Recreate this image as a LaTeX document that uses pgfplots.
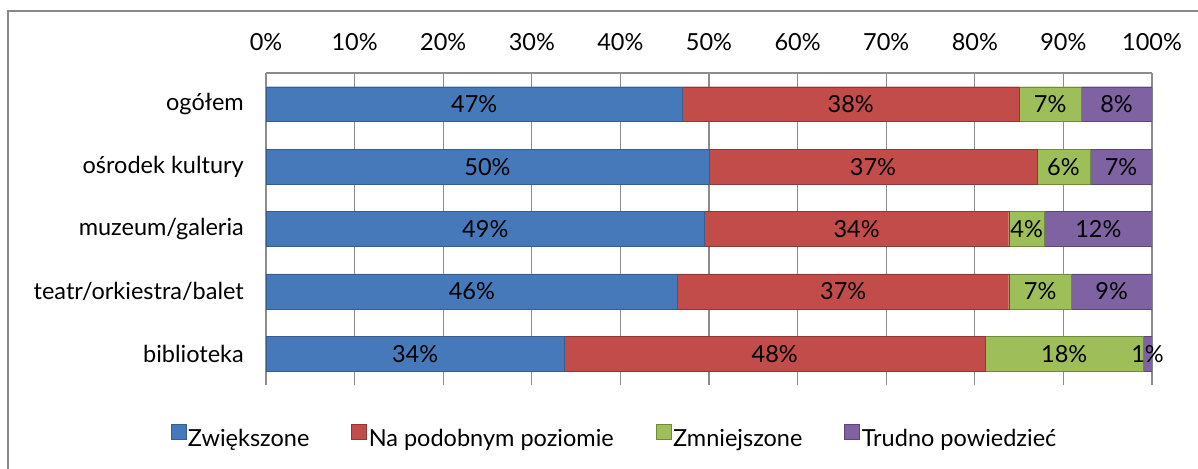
\documentclass[border=0pt]{standalone}
\usepackage{pgfplots}
\pgfplotsset{compat=1.18}
\usepackage{fontspec}
\setmainfont{Lato}
\definecolor{frameGray}{HTML}{888888}
\definecolor{gridGray}{HTML}{8C8C8C}
\definecolor{bFill}{HTML}{4579BA}
\definecolor{bEdge}{HTML}{385D8A}
\definecolor{rFill}{HTML}{C24C49}
\definecolor{rEdge}{HTML}{8C3836}
\definecolor{gFill}{HTML}{9DBE58}
\definecolor{gEdge}{HTML}{71893F}
\definecolor{pFill}{HTML}{7F62A2}
\definecolor{pEdge}{HTML}{5C4776}
\newcommand{\cf}{\fontsize{23.5bp}{28bp}\selectfont}
\begin{document}
\begin{tikzpicture}
\useasboundingbox (0,0) rectangle (1198bp,469bp);
\draw[frameGray, line width=1.5bp] (8bp,0) -- (8bp,458bp) -- (1198bp,458bp);
\begin{axis}[
  scale only axis, width=886bp, height=312bp,
  at={(266bp,84bp)}, anchor=south west,
  xbar stacked, bar width=0.56,
  xmin=0, xmax=100, ymin=-0.5, ymax=4.5,
  axis x line*=top, axis y line*=left,
  axis line style={gridGray, line width=1.2bp, -},
  xmajorgrids, grid style={gridGray, line width=1.2bp},
  xtick={0,10,...,100},
  xticklabels={0\%,10\%,20\%,30\%,40\%,50\%,60\%,70\%,80\%,90\%,100\%},
  ytick={0,1,2,3,4},
  yticklabels={biblioteka, teatr/orkiestra/balet, muzeum/galeria, ośrodek kultury, ogółem},
  major tick length=0pt,
  tick style={draw=none},
  xticklabel style={font=\cf, anchor=base, yshift=23bp, inner sep=0pt},
  yticklabel style={font=\cf, anchor=east, xshift=-22bp, inner sep=0pt},
  legend columns=4,
  legend style={draw=none, fill=none, font=\cf,
    at={(axis description cs:0.3933,-0.1667)}, anchor=center,
    nodes={inner sep=2bp},
    /tikz/every even column/.append style={column sep=40bp}},
]
\addplot[draw=bEdge, fill=bFill,
  legend image code/.code={\draw[draw=bEdge, fill=bFill] (0bp,-1bp) rectangle (15bp,14bp);}]
  coordinates {(47,4) (50,3) (49.49,2) (46.46,1) (33.66,0)};
\addlegendentry{Zwiększone}
\addplot[draw=rEdge, fill=rFill,
  legend image code/.code={\draw[draw=rEdge, fill=rFill] (0bp,-1bp) rectangle (15bp,14bp);}]
  coordinates {(38,4) (37,3) (34.34,2) (37.37,1) (47.52,0)};
\addlegendentry{Na podobnym poziomie}
\addplot[draw=gEdge, fill=gFill,
  legend image code/.code={\draw[draw=gEdge, fill=gFill] (0bp,-1bp) rectangle (15bp,14bp);}]
  coordinates {(7,4) (6,3) (4.04,2) (7.07,1) (17.82,0)};
\addlegendentry{Zmniejszone}
\addplot[draw=pEdge, fill=pFill,
  legend image code/.code={\draw[draw=pEdge, fill=pFill] (0bp,-1bp) rectangle (15bp,14bp);}]
  coordinates {(8,4) (7,3) (12.12,2) (9.09,1) (0.99,0)};
\addlegendentry{Trudno powiedzieć}
\end{axis}
\begin{axis}[
  scale only axis, width=886bp, height=312bp,
  at={(266bp,84bp)}, anchor=south west,
  xmin=0, xmax=100, ymin=-0.5, ymax=4.5,
  hide axis, clip=false,
  nodes near coords, point meta=explicit symbolic,
  every node near coord/.append style={anchor=center, font=\cf, text=black, inner sep=0pt},
]
\addplot[draw=none, mark=none] coordinates {
  (23.5,4)[47\%] (66,4)[38\%] (88.5,4)[7\%] (96,4)[8\%]
  (25,3)[50\%] (68.5,3)[37\%] (90,3)[6\%] (96.5,3)[7\%]
  (24.75,2)[49\%] (66.66,2)[34\%] (85.85,2)[4\%] (93.94,2)[12\%]
  (23.23,1)[46\%] (65.15,1)[37\%] (87.37,1)[7\%] (95.45,1)[9\%]
  (16.83,0)[34\%] (57.42,0)[48\%] (90.09,0)[18\%] (99.5,0)[1\%]
};
\end{axis}
\end{tikzpicture}
\end{document}
